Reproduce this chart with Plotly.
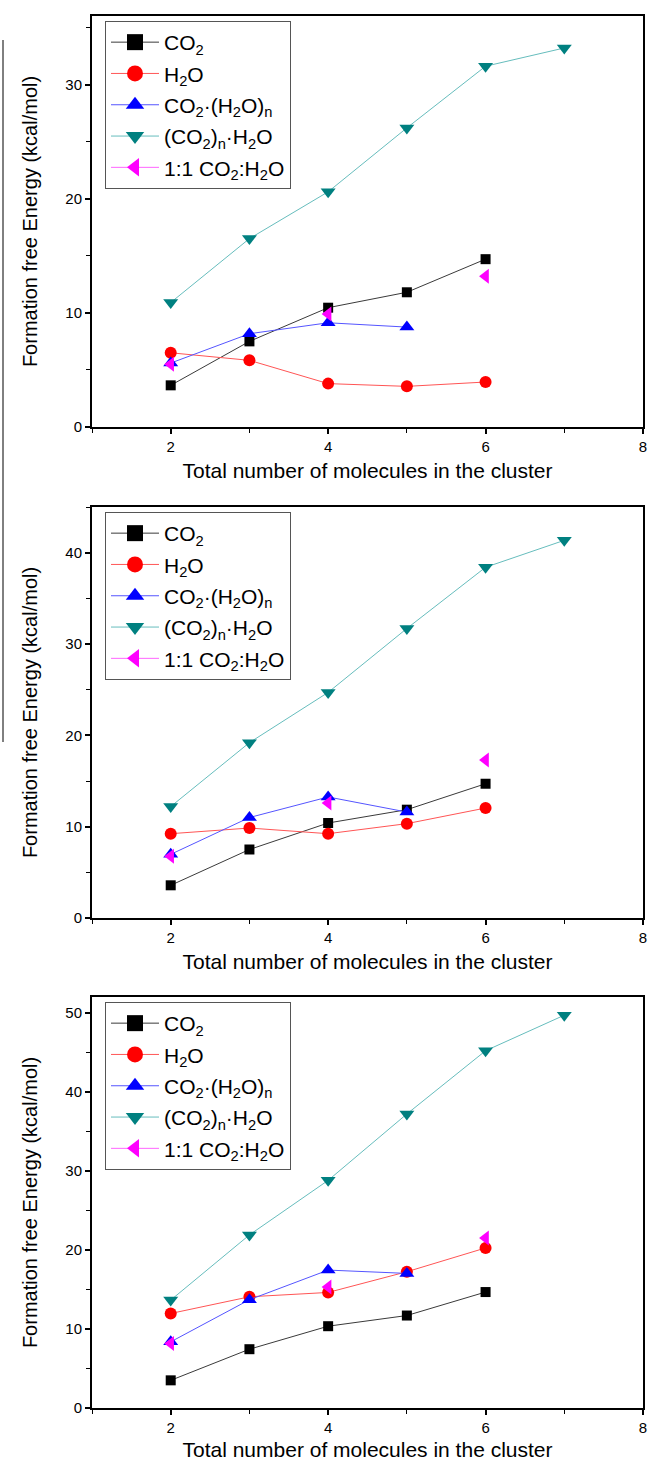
import plotly.graph_objects as go

# ---------------- data ----------------
x_co2 = [2, 3, 4, 5, 6]
x_co2w = [2, 3, 4, 5]
x_co2nw = [2, 3, 4, 5, 6, 7]
x_ratio = [2, 4, 6]

co2_1 = [3.65, 7.5, 10.45, 11.8, 14.7]
h2o_1 = [6.5, 5.84, 3.8, 3.56, 3.94]
co2w_1 = [5.6, 8.17, 9.13, 8.75]
co2nw_1 = [10.9, 16.5, 20.6, 26.2, 31.6, 33.2]
ratio_1 = [5.5, 9.9, 13.2]

co2_2 = [3.58, 7.5, 10.4, 11.86, 14.7]
h2o_2 = [9.23, 9.85, 9.23, 10.33, 12.04]
co2w_2 = [6.97, 11.0, 13.25, 11.6]
co2nw_2 = [12.2, 19.2, 24.7, 31.7, 38.4, 41.35]
ratio_2 = [6.75, 12.6, 17.3]

co2_3 = [3.5, 7.44, 10.35, 11.7, 14.67]
h2o_3 = [11.96, 14.07, 14.62, 17.24, 20.25]
co2w_3 = [8.37, 13.7, 17.45, 17.03]
co2nw_3 = [13.65, 21.9, 28.8, 37.2, 45.2, 49.7]
ratio_3 = [8.15, 15.3, 21.5]

y_ranges = [[0, 36], [0, 45], [0, 52]]

names = ["CO<sub>2</sub>", "H<sub>2</sub>O", "CO<sub>2</sub>·(H<sub>2</sub>O)<sub>n</sub>",
         "(CO<sub>2</sub>)<sub>n</sub>·H<sub>2</sub>O", "1:1 CO<sub>2</sub>:H<sub>2</sub>O"]

x_title = "Total number of molecules in the cluster"
y_title = "Formation free Energy (kcal/mol)"

panels = [
    (co2_1, h2o_1, co2w_1, co2nw_1, ratio_1),
    (co2_2, h2o_2, co2w_2, co2nw_2, ratio_2),
    (co2_3, h2o_3, co2w_3, co2nw_3, ratio_3),
]

FONT = "Liberation Sans, Arial, sans-serif"

styles = [
    dict(symbol="square", size=10, mcolor="#000000", lcolor="#3a3a3a"),
    dict(symbol="circle", size=12, mcolor="#ff0000", lcolor="#ff5555"),
    dict(symbol="triangle-up", size=13, mcolor="#0000ff", lcolor="#5555ff"),
    dict(symbol="triangle-down", size=13, mcolor="#008080", lcolor="#66bdbd"),
    dict(symbol="triangle-left", size=13, mcolor="#ff00ff", lcolor="#ff66ff"),
]


def gapped(xs, ys):
    gx, gy = [], []
    for i, (a, b) in enumerate(zip(xs, ys)):
        if i > 0:
            gx.append(None)
            gy.append(None)
        gx.append(a)
        gy.append(b)
    return gx, gy


fig = go.Figure()

W, H = 649, 1461
ml, mr, mt, mb = 92, 6, 16, 53
ph = H - mt - mb
plot_tops = [16, 507, 997]
plot_bottoms = [427, 918, 1408]
legend_tops = [21, 512, 1002]


def ypaper(py):
    return (H - mb - py) / ph


for p, (co2, h2o, co2w, co2nw, ratio) in enumerate(panels):
    ax = "" if p == 0 else str(p + 1)
    leg = "legend" if p == 0 else "legend" + str(p + 1)
    series = [
        (x_co2, co2),
        (x_co2, h2o),
        (x_co2w, co2w),
        (x_co2nw, co2nw),
        gapped(x_ratio, ratio),
    ]
    for k, (xs, ys) in enumerate(series):
        st = styles[k]
        fig.add_trace(go.Scatter(
            x=xs, y=ys, name=names[k], mode="lines+markers",
            connectgaps=False, showlegend=False,
            line=dict(color=st["lcolor"], width=1),
            marker=dict(symbol=st["symbol"], size=st["size"], color=st["mcolor"],
                        line=dict(width=0)),
            xaxis="x" + ax, yaxis="y" + ax,
        ))
    # legend entries (larger symbols, as in the original legend)
    for k in range(5):
        st = styles[k]
        fig.add_trace(go.Scatter(
            x=[None], y=[None], name=names[k], mode="lines+markers",
            line=dict(color=st["lcolor"], width=1),
            marker=dict(symbol=st["symbol"], size=18, color=st["mcolor"],
                        line=dict(width=0)),
            xaxis="x" + ax, yaxis="y" + ax, legend=leg,
            legendgroup=f"g{p}_{k}",
        ))

    dom = [ypaper(plot_bottoms[p]), ypaper(plot_tops[p])]
    fig.layout["xaxis" + ax] = dict(
        domain=[0, 1], range=[1, 8], tick0=0, dtick=2, anchor="y" + ax,
        minor=dict(ticks="outside", ticklen=4, dtick=1, tick0=1, tickcolor="black", tickwidth=1.3),
        title=dict(text=x_title, font=dict(family=FONT, size=21, color="black"), standoff=9),
    )
    fig.layout["yaxis" + ax] = dict(
        domain=dom, range=y_ranges[p], tick0=0, dtick=10, anchor="x" + ax,
        minor=dict(ticks="outside", ticklen=4, dtick=5, tick0=0, tickcolor="black", tickwidth=1.3),
        title=dict(text=y_title, font=dict(family=FONT, size=20, color="black"), standoff=22),
    )
    fig.layout[leg] = dict(
        x=(105 - ml) / (W - ml - mr), y=ypaper(legend_tops[p]),
        xanchor="left", yanchor="top",
        bgcolor="white", bordercolor="#555555", borderwidth=1,
        font=dict(family=FONT, size=21, color="black"),
        tracegroupgap=1, itemwidth=48, itemsizing="trace",
    )

axis_common = dict(
    showline=True, linecolor="black", linewidth=2, mirror=True,
    ticks="outside", ticklen=5, tickwidth=1.5, tickcolor="black",
    showgrid=False, zeroline=False, automargin=False,
    tickfont=dict(family=FONT, size=15, color="black"),
)
fig.update_xaxes(**axis_common)
fig.update_yaxes(**axis_common)

# thin vertical line at the left edge of the scanned figure
fig.add_shape(type="line", xref="paper", yref="paper",
              x0=(3 - ml) / (W - ml - mr), x1=(3 - ml) / (W - ml - mr),
              y0=ypaper(40), y1=ypaper(742),
              line=dict(color="black", width=1))

fig.update_layout(
    width=W, height=H,
    margin=dict(l=ml, r=mr, t=mt, b=mb),
    paper_bgcolor="white", plot_bgcolor="white",
    font=dict(family=FONT, color="black"),
)

fig.write_html("out.html", config={"displayModeBar": False},
               post_script="document.body.style.margin='0';")
